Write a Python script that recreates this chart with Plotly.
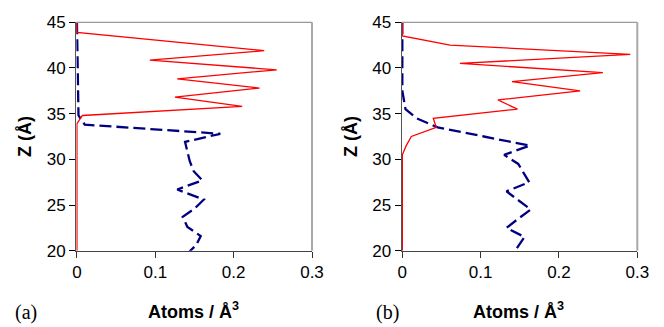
import plotly.graph_objects as go
from plotly.subplots import make_subplots

# ---- data (a) ----
red_a_z = [45, 43.9, 41.9, 40.85, 39.8, 38.8, 37.8, 36.8, 35.8, 34.8, 33.9, 20]
red_a_x = [0, 0, 0.239, 0.093, 0.255, 0.128, 0.233, 0.125, 0.211, 0.007, 0, 0]
blue_a_z = [45, 34.8, 33.8, 32.8, 31.9, 30.8, 29.8, 28.7, 27.7, 26.7, 25.6, 24.6, 23.7, 22.6, 21.6, 20.6, 19.6]
blue_a_x = [0, 0.002, 0.01, 0.183, 0.138, 0.141, 0.144, 0.149, 0.160, 0.128, 0.162, 0.150, 0.135, 0.141, 0.158, 0.152, 0.140]

# ---- data (b) ----
red_b_z = [45, 43.5, 42.5, 41.5, 40.5, 39.5, 38.5, 37.5, 36.5, 35.5, 34.5, 33.5, 32.5, 31.5, 30.5, 20]
red_b_x = [0, 0, 0.061, 0.291, 0.0735, 0.256, 0.140, 0.227, 0.122, 0.147, 0.0395, 0.0433, 0.0115, 0.005, 0, 0]
blue_b_z = [45, 37.5, 36.5, 35.5, 34.5, 33.5, 32.5, 31.5, 30.5, 29.5, 28.5, 27.5, 26.5, 25.5, 24.5, 23.5, 22.5, 21.5, 20.5, 19.5]
blue_b_x = [0, 0, 0.002, 0.004, 0.018, 0.045, 0.104, 0.163, 0.130, 0.148, 0.155, 0.162, 0.133, 0.148, 0.164, 0.148, 0.133, 0.156, 0.148, 0.140]

x_ticks = [0, 0.1, 0.2, 0.3]
x_tick_text = ["0", "0.1", "0.2", "0.3"]
y_ticks = [20, 25, 30, 35, 40, 45]
x_title = "<b>Atoms / Å<sup>3</sup></b>"
y_title = "<b>Z (Å)</b>"
panel_labels = ["(a)", "(b)"]

W, H = 664, 327
fig = go.Figure()

RED = "#ff0000"
NAVY = "#000080"

panels = [
    (red_a_x, red_a_z, blue_a_x, blue_a_z, "x", "y"),
    (red_b_x, red_b_z, blue_b_x, blue_b_z, "x2", "y2"),
]
for rx, rz, bx, bz, xa, ya in panels:
    fig.add_trace(go.Scatter(x=bx, y=bz, mode="lines", xaxis=xa, yaxis=ya,
                             line=dict(color=NAVY, width=2.3, dash="12px,5px"),
                             showlegend=False, hoverinfo="skip"))
    fig.add_trace(go.Scatter(x=rx, y=rz, mode="lines", xaxis=xa, yaxis=ya,
                             line=dict(color=RED, width=1.3),
                             showlegend=False, hoverinfo="skip"))

x_domains = [[76.3 / W, 312.0 / W], [401.7 / W, 637.3 / W]]
y_domain = [(H - 250.7) / H, (H - 22.3) / H]

tickfont = dict(family="Liberation Sans, Arial, sans-serif", size=17, color="#000000")
common_x = dict(range=[-0.0008, 0.3], tickvals=x_ticks, ticktext=x_tick_text,
                ticks="outside", ticklen=6, tickcolor="#333333", tickwidth=1,
                showline=True, linecolor="#444444", linewidth=1.3,
                showgrid=False, zeroline=False, tickfont=tickfont, fixedrange=True)
common_y = dict(range=[20, 45], tickvals=y_ticks,
                ticks="outside", ticklen=6, tickcolor="#000000", tickwidth=1,
                showline=True, linecolor="#555555", linewidth=1.3,
                showgrid=False, zeroline=False, tickfont=tickfont, fixedrange=True)

fig.update_layout(
    width=W, height=H,
    margin=dict(l=0, r=0, t=0, b=0, autoexpand=False),
    paper_bgcolor="white", plot_bgcolor="white",
    xaxis=dict(domain=x_domains[0], anchor="y", **common_x),
    yaxis=dict(domain=y_domain, anchor="x", **common_y),
    xaxis2=dict(domain=x_domains[1], anchor="y2", **common_x),
    yaxis2=dict(domain=y_domain, anchor="x2", **common_y),
)

# top / right frame lines (light gray)
for d in x_domains:
    fig.add_shape(type="line", xref="paper", yref="paper",
                  x0=d[0], x1=d[1], y0=y_domain[1], y1=y_domain[1],
                  line=dict(color="#999999", width=1.3))
    fig.add_shape(type="line", xref="paper", yref="paper",
                  x0=d[1], x1=d[1], y0=y_domain[0], y1=y_domain[1],
                  line=dict(color="#a8a8a8", width=2))

titlefont = dict(family="Liberation Sans, Arial, sans-serif", size=18, color="#000000")
ann = []
for i, d in enumerate(x_domains):
    ann.append(dict(text=x_title, xref="paper", yref="paper",
                    x=[193 / W, 518 / W][i], y=(H - 310) / H,
                    xanchor="center", yanchor="middle", showarrow=False, font=titlefont))
    ann.append(dict(text=y_title, xref="paper", yref="paper",
                    x=[25 / W, 351 / W][i], y=(H - 137) / H, textangle=-90,
                    xanchor="center", yanchor="middle", showarrow=False, font=titlefont))
    ann.append(dict(text=panel_labels[i], xref="paper", yref="paper",
                    x=[26 / W, 387 / W][i], y=(H - 312) / H,
                    xanchor="center", yanchor="middle", showarrow=False,
                    font=dict(family="Liberation Serif, DejaVu Serif, serif", size=20, color="#000000")))
fig.update_layout(annotations=ann)

fig.write_html("out.html")
